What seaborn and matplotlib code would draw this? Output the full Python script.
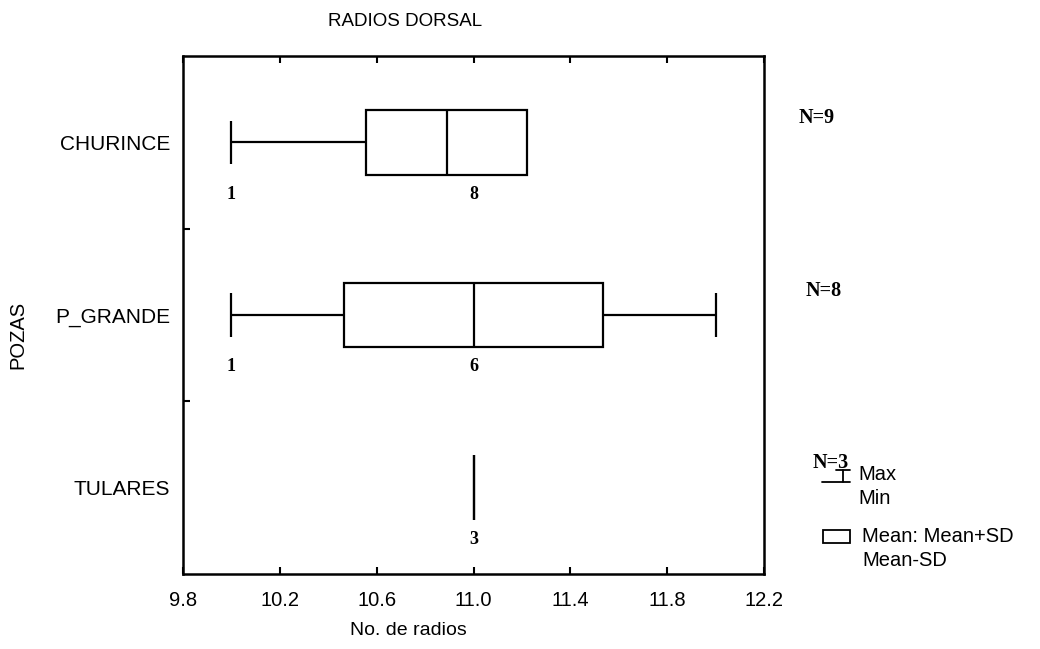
import numpy as np
import pandas as pd
import matplotlib
matplotlib.use("Agg")
import matplotlib.pyplot as plt
import seaborn as sns
from matplotlib.transforms import blended_transform_factory

# ---- data ----
categories = ["CHURINCE", "P_GRANDE", "TULARES"]
ray_values = [[10, 11], [10, 11, 12], [11]]
ray_counts = [[1, 8], [1, 6, 1], [3]]
# frequency labels printed under each box: (value, text)
freq_label_values = [[10, 11], [10, 11], [11]]
freq_label_texts = [["1", "8"], ["1", "6"], ["3"]]
x_ticks = [9.8, 10.2, 10.6, 11.0, 11.4, 11.8, 12.2]
x_tick_labels = ["9.8", "10.2", "10.6", "11.0", "11.4", "11.8", "12.2"]

# summary statistics (mean, SD, min, max, N)
rows = []
for cat, v, c in zip(categories, ray_values, ray_counts):
    obs = np.repeat(v, c).astype(float)
    sd = obs.std(ddof=1) if len(obs) > 1 else 0.0
    rows.append(dict(pozas=cat, mean=obs.mean(), sd=sd, vmin=obs.min(),
                     vmax=obs.max(), n=len(obs)))
stats = pd.DataFrame(rows)

sns.set_theme(style="white")
plt.rcParams["font.family"] = ["Liberation Sans", "DejaVu Sans"]
plt.rcParams["text.color"] = "black"
plt.rcParams["axes.labelcolor"] = "black"
plt.rcParams["xtick.color"] = "black"
plt.rcParams["ytick.color"] = "black"

fig = plt.figure(figsize=(10.4, 6.49), dpi=100)
ax = fig.add_axes([183 / 1040, 1 - 574 / 649, (764 - 183) / 1040, (574 - 56) / 649])

ypos = np.arange(len(categories))
box_h = 0.375
cap_h = 0.25
lw = 1.6

lo = stats["mean"] - stats["sd"]
hi = stats["mean"] + stats["sd"]
ax.barh(ypos, 2 * stats["sd"], left=lo, height=box_h, facecolor="white",
        edgecolor="black", linewidth=lw, zorder=3)
ax.vlines(stats["mean"], ypos - box_h / 2, ypos + box_h / 2, color="black",
          linewidth=lw, zorder=4)
for i, r in stats.iterrows():
    if r["vmin"] < lo[i]:
        ax.hlines(i, r["vmin"], lo[i], color="black", linewidth=lw, zorder=3)
        ax.vlines(r["vmin"], i - cap_h / 2, i + cap_h / 2, color="black",
                  linewidth=lw, zorder=3)
    if r["vmax"] > hi[i]:
        ax.hlines(i, hi[i], r["vmax"], color="black", linewidth=lw, zorder=3)
        ax.vlines(r["vmax"], i - cap_h / 2, i + cap_h / 2, color="black",
                  linewidth=lw, zorder=3)

serif = ["Liberation Serif", "DejaVu Serif"]
for i, (vals, texts) in enumerate(zip(freq_label_values, freq_label_texts)):
    for v, t in zip(vals, texts):
        ax.text(v, i + 0.30, t, ha="center", va="center", fontsize=13,
                family=serif, fontweight="bold", color="black")

trans = blended_transform_factory(ax.transAxes, ax.transData)
for i, n in enumerate(stats["n"]):
    ax.text(1.09 + 0.012 * i, i - 0.14, f"N={n}", transform=trans, ha="center",
            va="center", fontsize=14.5, family=serif, fontweight="bold")

ax.set_xlim(9.8, 12.2)
ax.set_ylim(2.5, -0.5)
ax.set_xticks(x_ticks)
ax.set_xticklabels(x_tick_labels, fontsize=14.5)
ax.set_yticks(ypos)
ax.set_yticklabels(categories, fontsize=15)
ax.tick_params(axis="y", which="major", length=0, pad=9)
ax.tick_params(axis="x", which="major", direction="in", length=5, width=1.5,
               top=True, bottom=True, pad=12, color="black")
ax.set_yticks([0.5, 1.5], minor=True)
ax.tick_params(axis="y", which="minor", direction="in", length=5, width=1.5,
               left=True, right=False, color="black")
for s in ax.spines.values():
    s.set_visible(True)
    s.set_color("black")
    s.set_linewidth(1.8)
ax.grid(False)

ax.set_xlabel("No. de radios", fontsize=14)
ax.xaxis.set_label_coords((408 - 183) / 581, -0.093)
ax.set_ylabel("POZAS", fontsize=14.5)
ax.yaxis.set_label_coords(-0.268, 0.461)

fig.text(405 / 1040, 1 - 22 / 649, "RADIOS DORSAL", ha="center", va="center",
         fontsize=13.5)

# legend drawn in figure pixels
def fx(px):
    return px / 1040
def fy(py):
    return 1 - py / 649

fig.add_artist(plt.Line2D([fx(836), fx(850)], [fy(470), fy(470)], color="black", lw=1.3))
fig.add_artist(plt.Line2D([fx(843), fx(843)], [fy(470), fy(482)], color="black", lw=1.3))
fig.add_artist(plt.Line2D([fx(822), fx(850)], [fy(482), fy(482)], color="black", lw=1.3))
fig.add_artist(plt.Rectangle((fx(823), fy(543)), fx(850) - fx(823), fy(530) - fy(543),
                             facecolor="white", edgecolor="black", lw=1.3))
fig.text(fx(858), fy(475), "Max", ha="left", va="center", fontsize=14.5)
fig.text(fx(858), fy(498), "Min", ha="left", va="center", fontsize=14.5)
fig.text(fx(862), fy(537), "Mean: Mean+SD", ha="left", va="center", fontsize=14.5)
fig.text(fx(862), fy(560), "Mean-SD", ha="left", va="center", fontsize=14.5)

fig.savefig("out.png", dpi=100, facecolor="white")
